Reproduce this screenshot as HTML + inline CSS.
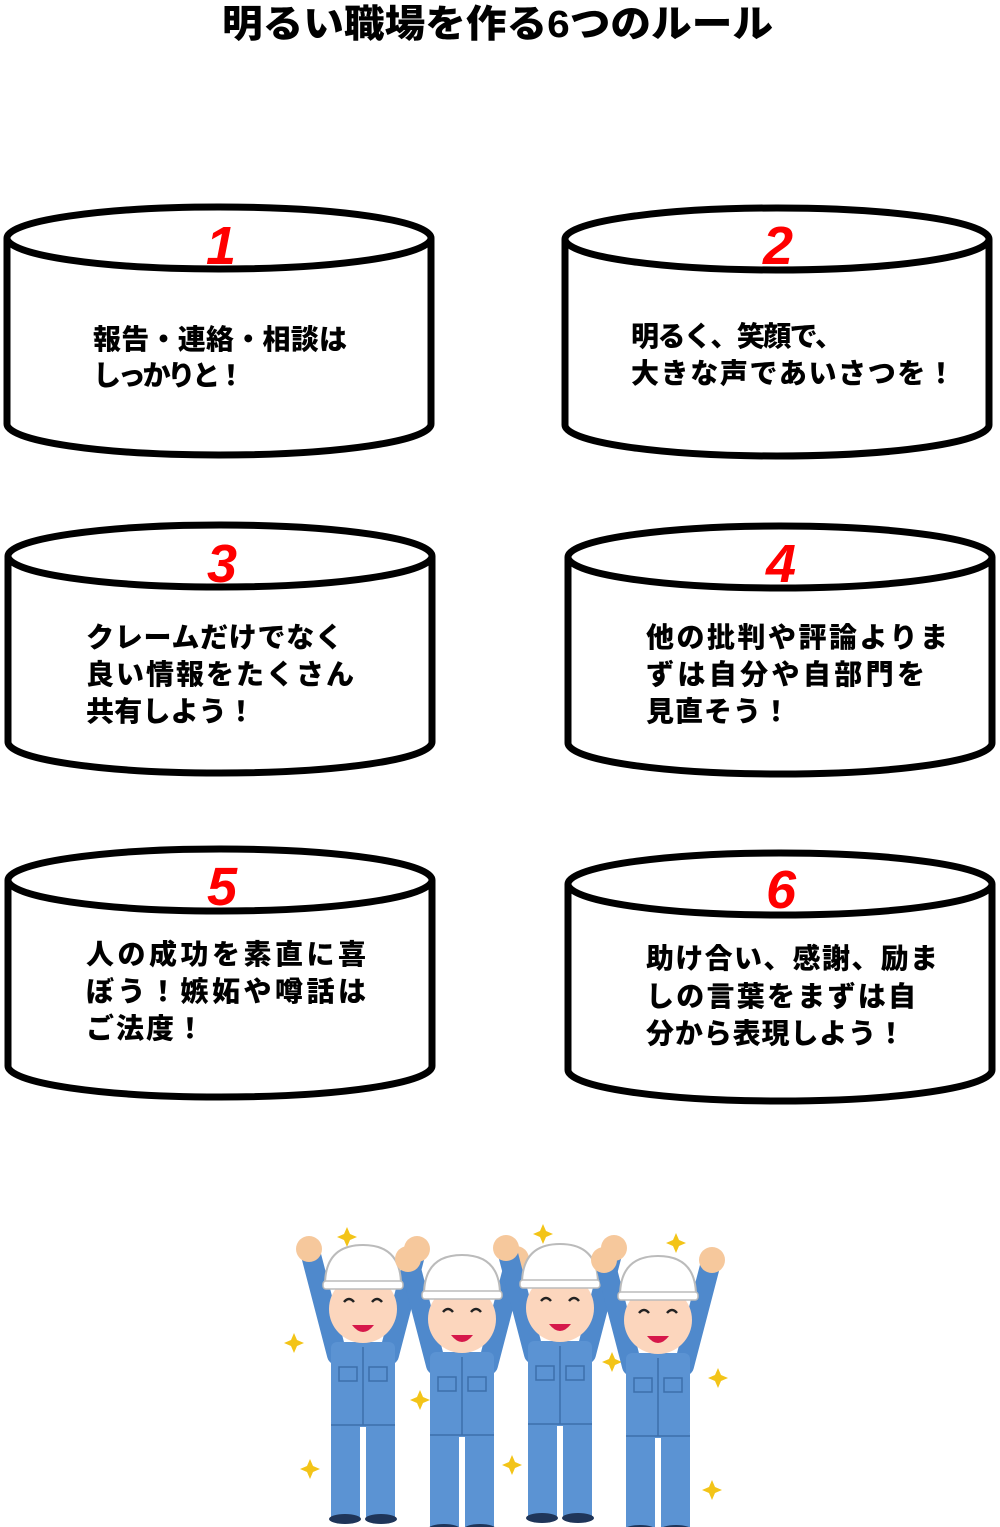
<!DOCTYPE html>
<html><head><meta charset="utf-8"><style>
html,body{margin:0;padding:0;background:#fff}
svg{display:block}
.t{font-family:"Liberation Sans","Noto Sans CJK JP",sans-serif;font-weight:900;font-size:28px;fill:#000}
.n{font-family:"Liberation Sans",sans-serif;font-weight:bold;font-style:italic;font-size:54px;fill:#f00}
</style></head><body>
<svg width="1000" height="1527" viewBox="0 0 1000 1527" xmlns="http://www.w3.org/2000/svg">
<defs>
<g id="cyl">
<path d="M-212,0 V186 A212,31 0 0 0 212,186 V0" fill="#fff" stroke="#000" stroke-width="7"/>
<ellipse cx="0" cy="0" rx="212" ry="31" fill="#fff" stroke="#000" stroke-width="7"/>
</g>
<g id="star"><path d="M0,-10 L3,-3 L10,0 L3,3 L0,10 L-3,3 L-10,0 L-3,-3Z" fill="#f3c418"/></g>
<g id="w">
<path d="M-26,108 L-52,8 M26,108 L52,8" stroke="#4f89cc" stroke-width="20" stroke-linecap="round" fill="none"/>
<circle cx="-54" cy="2" r="13" fill="#f6c89c"/><circle cx="54" cy="2" r="13" fill="#f6c89c"/>
<rect x="-32" y="95" width="64" height="85" rx="6" fill="#5b93d3"/>
<rect x="-32" y="175" width="29" height="95" fill="#5b93d3"/>
<rect x="3" y="175" width="29" height="95" fill="#5b93d3"/>
<line x1="-32" y1="178" x2="32" y2="178" stroke="#3c6fab" stroke-width="1.5"/>
<line x1="0" y1="100" x2="0" y2="178" stroke="#3c6fab" stroke-width="1.5"/>
<rect x="-24" y="120" width="18" height="14" fill="none" stroke="#3c6fab" stroke-width="1.5"/>
<rect x="6" y="120" width="18" height="14" fill="none" stroke="#3c6fab" stroke-width="1.5"/>
<ellipse cx="-18" cy="272" rx="16" ry="5" fill="#1f3559"/><ellipse cx="18" cy="272" rx="16" ry="5" fill="#1f3559"/>
<circle cx="0" cy="62" r="34" fill="#fcd6bd"/>
<path d="M-11,78 Q0,92 11,78 Z" fill="#d6184a"/>
<path d="M-19,55 q5,-6 10,0 M9,55 q5,-6 10,0" stroke="#222" stroke-width="2.5" fill="none"/>
<path d="M-38,38 Q-38,-2 0,-2 Q38,-2 38,38 Z" fill="#fff" stroke="#bbb" stroke-width="2"/>
<rect x="-40" y="34" width="80" height="8" rx="3" fill="#fff" stroke="#bbb" stroke-width="1.5"/>
</g>
</defs>
<text x="222" y="37" textLength="551" lengthAdjust="spacingAndGlyphs" style="font-family:'Liberation Sans','Noto Sans CJK JP',sans-serif;font-weight:900;font-size:38px">明るい職場を作る6つのルール</text>

<use href="#cyl" x="219" y="238"/>
<use href="#cyl" x="777" y="239"/>
<use href="#cyl" x="220" y="556"/>
<use href="#cyl" x="780" y="557"/>
<use href="#cyl" x="220" y="880"/>
<use href="#cyl" x="780" y="884"/>

<text class="n" x="221" y="264" text-anchor="middle">1</text>
<text class="n" x="778" y="264" text-anchor="middle">2</text>
<text class="n" x="222" y="582" text-anchor="middle">3</text>
<text class="n" x="781" y="582" text-anchor="middle">4</text>
<text class="n" x="222" y="905" text-anchor="middle">5</text>
<text class="n" x="781" y="908" text-anchor="middle">6</text>

<text class="t" x="93" y="349" textLength="254">報告・連絡・相談は</text>
<text class="t" x="93" y="385" textLength="152">しっかりと！</text>
<text class="t" x="631" y="346" textLength="212">明るく、笑顔で、</text>
<text class="t" x="631" y="383" textLength="324">大きな声であいさつを！</text>
<text class="t" x="86" y="647" textLength="257">クレームだけでなく</text>
<text class="t" x="86" y="684" textLength="268">良い情報をたくさん</text>
<text class="t" x="86" y="721" textLength="169">共有しよう！</text>
<text class="t" x="646" y="647" textLength="302">他の批判や評論よりま</text>
<text class="t" x="646" y="684" textLength="279">ずは自分や自部門を</text>
<text class="t" x="646" y="721" textLength="144">見直そう！</text>
<text class="t" x="86" y="964" textLength="280">人の成功を素直に喜</text>
<text class="t" x="86" y="1001" textLength="280">ぼう！嫉妬や噂話は</text>
<text class="t" x="86" y="1038" textLength="118">ご法度！</text>
<text class="t" x="646" y="968" textLength="292">助け合い、感謝、励ま</text>
<text class="t" x="646" y="1006" textLength="270">しの言葉をまずは自</text>
<text class="t" x="646" y="1043" textLength="259">分から表現しよう！</text>

<use href="#star" x="347" y="1237"/><use href="#star" x="543" y="1234"/><use href="#star" x="676" y="1243"/>
<use href="#star" x="294" y="1343"/><use href="#star" x="420" y="1400"/><use href="#star" x="612" y="1362"/>
<use href="#star" x="718" y="1378"/><use href="#star" x="310" y="1469"/><use href="#star" x="512" y="1465"/>
<use href="#star" x="712" y="1490"/>
<use href="#w" x="363" y="1247"/>
<use href="#w" x="462" y="1257"/>
<use href="#w" x="560" y="1246"/>
<use href="#w" x="658" y="1258"/>
</svg>
</body></html>
